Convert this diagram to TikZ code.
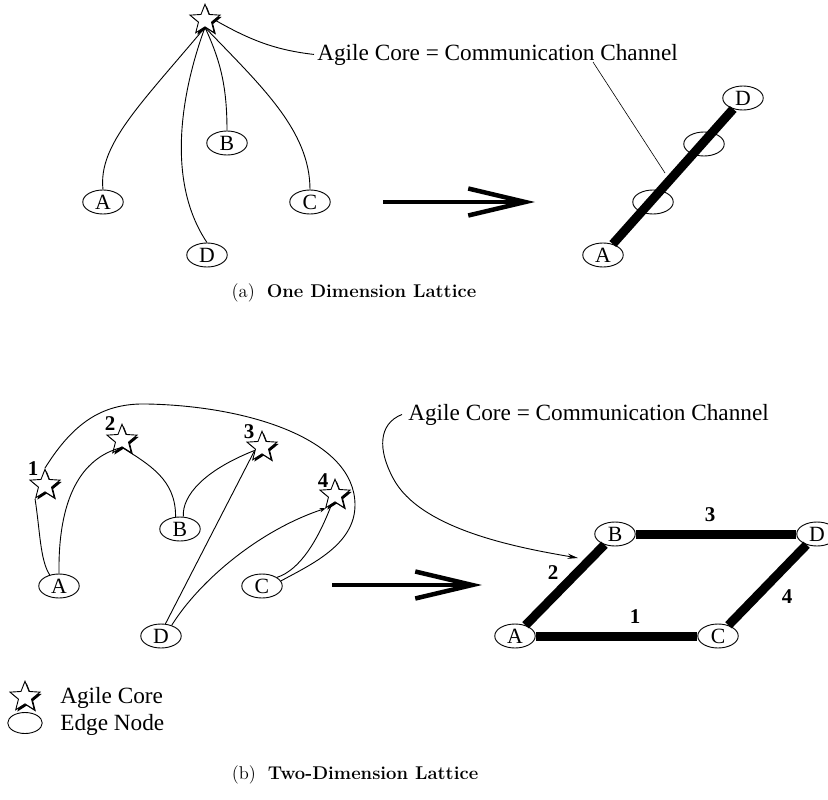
\documentclass[tikz,border=0pt]{standalone}
\usepackage{fontspec}
\newfontfamily\figfont{Liberation Serif}
\usetikzlibrary{shapes.geometric,arrows.meta,shadows}

\begin{document}
\begin{tikzpicture}[
x=0.6667pt, y=-0.6667pt,
font=\figfont\fontsize{14.5}{16}\selectfont,
edgenode/.style={ellipse, draw=black, line width=0.6pt, minimum width=27pt, minimum height=16pt, inner sep=0pt},
keynode/.style={edgenode, minimum width=23pt, minimum height=14pt},
core/.style={star, star points=5, star point ratio=2.3, minimum size=21pt, inner sep=0pt,
    draw=black, line width=0.6pt, fill=white,
    general shadow={shadow xshift=1.1pt, shadow yshift=-1.2pt, fill=black}},
channel/.style={line width=6pt},
link/.style={line width=0.6pt},
bigarrow/.style={line width=3pt, -{Straight Barb[length=38pt, width=18pt]}},
num/.style={font=\figfont\bfseries\fontsize{14}{16}\selectfont, inner sep=0pt},
note/.style={font=\figfont\fontsize{15.5}{18}\selectfont, inner sep=0pt, anchor=base west},
caption/.style={font=\fontsize{12.3}{14}\selectfont, anchor=base},
]
\useasboundingbox (0,0) rectangle (828,800);

% (a) one dimension lattice
\node[core] (core) at (205,20) {};
\node[edgenode] (a1) at (103,202) {A};
\node[edgenode] (b1) at (227,143) {B};
\node[edgenode] (c1) at (310,202) {C};
\node[edgenode] (d1) at (207,255) {D};
\draw[link] (core.south) .. controls (140,105) and (98,145) .. (a1.north);
\draw[link] (core.south) .. controls (182,90) and (165,180) .. (d1.north);
\draw[link] (core.south) .. controls (220,60) and (227,85) .. (b1.north);
\draw[link] (core.south) .. controls (260,85) and (310,130) .. (c1.north);

\node[note] (lbla) at (317,60) {Agile Core = Communication Channel};
\draw[link] (core.east) .. controls (250,40) and (275,50) .. ([xshift=-2pt]lbla.west);

\coordinate (arrowa) at (383,202);
\coordinate (tipa) at (535,202);
\draw[bigarrow] (arrowa) -- (tipa);

\node[edgenode] (a2) at (603,255) {A};
\node[edgenode] (m1) at (653,202) {};
\node[edgenode] (m2) at (704,144) {};
\node[edgenode] (d2) at (743,98) {D};
\draw[channel] (a2) -- (d2);
\coordinate (fromch) at (593,62);
\coordinate (onbar) at (665,173);
\draw[line width=0.4pt] (fromch) -- (onbar);

\node[caption] (capa) at (354,297) {(a)\hspace{8pt}\textbf{One Dimension Lattice}};

% (b) two-dimension lattice
\node[core] (s1) at (45,485) {};
\node[core] (s2) at (122,440) {};
\node[core] (s3) at (262,447) {};
\node[core] (s4) at (335,495) {};
\node[num] (n1) at (33,469) {1};
\node[num] (n2) at (110,424) {2};
\node[num] (n3) at (249,432) {3};
\node[num] (n4) at (323,481) {4};

\node[edgenode] (a3) at (59,586) {A};
\node[edgenode] (b3) at (180,529) {B};
\node[edgenode] (c3) at (262,586) {C};
\node[edgenode] (d3) at (161,636) {D};

\draw[link] (a3.130) .. controls (40,560) and (40,530) .. (s1.234);
\draw[link] (s1.north) .. controls (75,420) and (105,403) .. (147,404)
    .. controls (250,406) and (355,440) .. (355,505)
    .. controls (355,545) and (310,565) .. (c3.15);
\draw[link] (a3.north) .. controls (58,500) and (80,458) .. (s2.south);
\draw[link] (s2.south) .. controls (150,465) and (176,480) .. (b3.110);
\draw[link] (b3.75) .. controls (182,495) and (205,470) .. (s3.205);
\draw[link] (s3.205) -- (d3.70);
\draw[link, -{Stealth[length=4pt, width=3pt]}] (d3.45) .. controls (200,580) and (260,530) .. (s4.235);
\draw[link] (c3.30) .. controls (300,570) and (318,540) .. (s4.250);

\node[note] (lblb) at (408,420) {Agile Core = Communication Channel};
\coordinate (pointb) at (578,558);
\draw[link, -{Stealth[length=7pt, width=3.5pt]}] ([xshift=-4pt]lblb.west) .. controls (378,424) and (378,450) .. (393,478)
    .. controls (420,530) and (520,548) .. (pointb);

\coordinate (arrowb) at (332,585);
\coordinate (tipb) at (482,585);
\draw[bigarrow] (arrowb) -- (tipb);

\node[edgenode] (a4) at (515,636) {A};
\node[edgenode] (b4) at (615,534) {B};
\node[edgenode] (c4) at (718,636) {C};
\node[edgenode] (d4) at (817,534) {D};
\draw[channel] (a4) -- (c4);
\draw[channel] (a4) -- (b4);
\draw[channel] (b4) -- (d4);
\draw[channel] (c4) -- (d4);
\node[num] (w1) at (635,617) {1};
\node[num] (w2) at (553,573) {2};
\node[num] (w3) at (710,515) {3};
\node[num] (w4) at (787,597) {4};

% key
\node[core] (keycore) at (25,697) {};
\node[note] (keycoretext) at (60,703) {Agile Core};
\node[keynode] (keyedge) at (25,723) {};
\node[note] (keyedgetext) at (60,730) {Edge Node};

\node[caption] (capb) at (355,779) {(b)\hspace{8pt}\textbf{Two-Dimension Lattice}};
\end{tikzpicture}
\end{document}
